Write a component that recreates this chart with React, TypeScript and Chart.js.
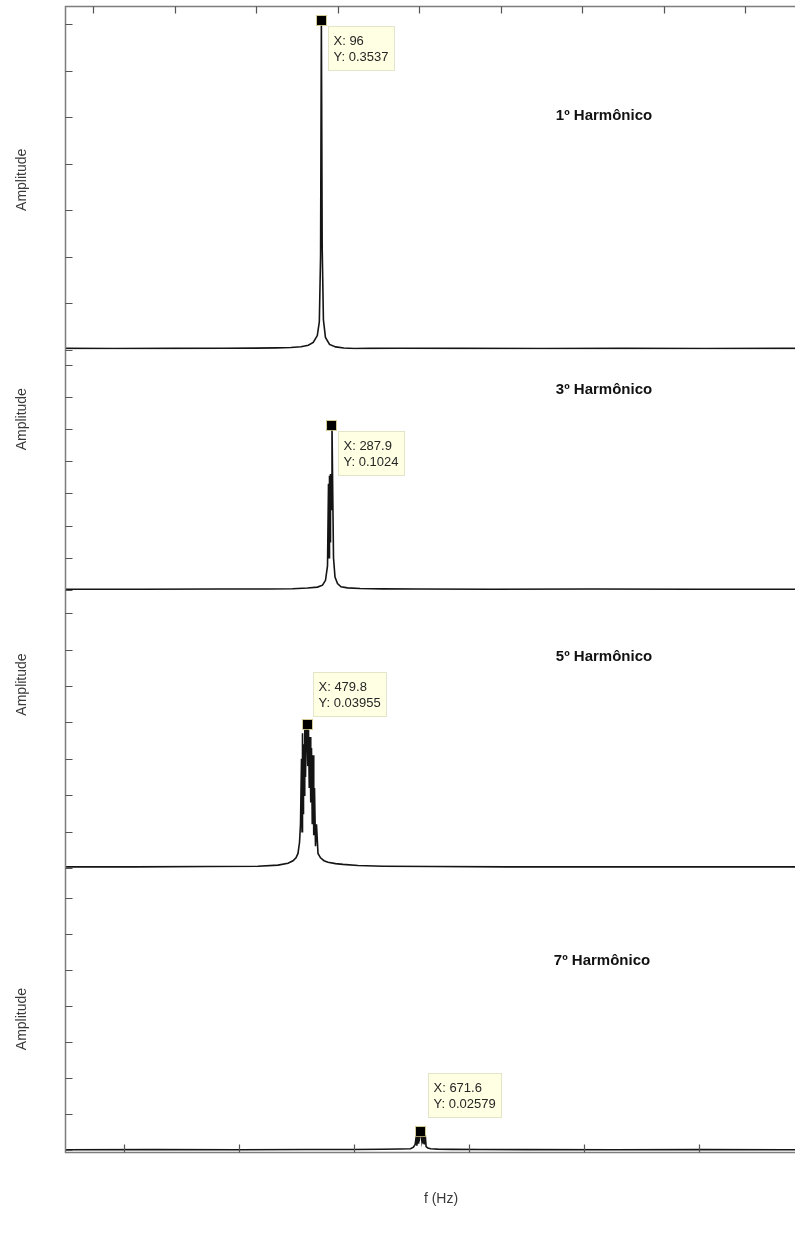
import React, { useEffect, useRef } from 'react';
import { Chart, registerables } from 'chart.js';

Chart.register(...registerables);

// ---------- data ----------
const panelTitles = ['1º Harmônico', '3º Harmônico', '5º Harmônico', '7º Harmônico'];
const yAxisTitle = 'Amplitude';
const xAxisTitle = 'f (Hz)';

// 1st harmonic spectrum
const freq1 = [33.1, 45, 60, 72, 80, 85, 88.5, 91, 92.8, 94, 95, 95.5, 95.8, 96, 96.2, 96.5, 97, 98, 99.5, 101.5, 104, 108, 115, 130, 150, 170, 190, 210, 231];
const amp1 = [0.0012, 0.0011, 0.0012, 0.0013, 0.0015, 0.0018, 0.0022, 0.003, 0.0045, 0.0075, 0.015, 0.03, 0.1, 0.3537, 0.11, 0.032, 0.013, 0.0055, 0.0028, 0.0016, 0.001, 0.0012, 0.0013, 0.0012, 0.0011, 0.0012, 0.0011, 0.0012, 0.0011];

// 3rd harmonic spectrum
const freq3 = [234.5, 250, 265, 275, 280, 283, 285, 286.0, 286.6, 287.0, 287.2, 287.3, 287.4, 287.5, 287.6, 287.75, 287.9, 288.05, 288.2, 288.5, 289.0, 289.7, 291, 293.5, 298, 305, 320, 340, 360, 380, 396];
const amp3 = [0.0005, 0.0005, 0.0006, 0.0006, 0.0008, 0.0012, 0.0018, 0.003, 0.006, 0.015, 0.066, 0.02, 0.071, 0.03, 0.072, 0.05, 0.1024, 0.06, 0.02, 0.008, 0.004, 0.002, 0.0013, 0.0009, 0.0007, 0.0006, 0.0005, 0.0006, 0.0005, 0.0005, 0.0005];

// 5th harmonic spectrum
const freq5 = [431.4, 445, 460, 470, 474, 476, 477, 477.6, 478.0, 478.3, 478.5, 478.7, 478.8, 478.9, 479.0, 479.1, 479.2, 479.35, 479.5, 479.65, 479.8, 479.95, 480.1, 480.25, 480.4, 480.55, 480.7, 480.85, 481.0, 481.15, 481.3, 481.5, 481.7, 482.0, 482.5, 483.2, 484, 485.5, 487, 490, 495, 505, 520, 540, 565, 593];
const amp5 = [0.0003, 0.0003, 0.0004, 0.0005, 0.0008, 0.0013, 0.002, 0.0028, 0.004, 0.007, 0.012, 0.03, 0.01, 0.037, 0.015, 0.034, 0.02, 0.038, 0.025, 0.039, 0.03955, 0.028, 0.038, 0.022, 0.036, 0.018, 0.033, 0.012, 0.031, 0.009, 0.022, 0.006, 0.012, 0.004, 0.0028, 0.002, 0.0016, 0.0012, 0.001, 0.0007, 0.0005, 0.0004, 0.0003, 0.0003, 0.0003, 0.0003];

// 7th harmonic spectrum
const freq7 = [609.7, 625, 640, 652, 660, 665, 668, 669.8, 670.3, 670.6, 670.8, 670.9, 671.0, 671.1, 671.2, 671.3, 671.45, 671.6, 671.75, 671.9, 672.0, 672.1, 672.2, 672.35, 672.5, 672.8, 673.3, 674.5, 677, 682, 690, 705, 720, 735, 750];
const amp7 = [0.0006, 0.0007, 0.0006, 0.0008, 0.0009, 0.0012, 0.0016, 0.002, 0.004, 0.008, 0.02, 0.006, 0.023, 0.01, 0.024, 0.012, 0.025, 0.02579, 0.014, 0.025, 0.01, 0.024, 0.008, 0.021, 0.005, 0.003, 0.002, 0.0014, 0.001, 0.0008, 0.0007, 0.0006, 0.0007, 0.0006, 0.0006];

// data-tip peaks
const peakX = [96, 287.9, 479.8, 671.6];
const peakY = [0.3537, 0.1024, 0.03955, 0.02579];

// axis ranges
const xMin = [33.1, 234.5, 431.4, 609.7];
const xMax = [230.6, 395.5, 592.4, 749.7];
const yMin = [0, 0, 0, -0.004];
const yMax = [0.3694, 0.1494, 0.0764, 0.392];

// tick values
const yTicks1 = [0, 0.05, 0.1, 0.15, 0.2, 0.25, 0.3, 0.35];
const yTicks3 = [0, 0.02, 0.04, 0.06, 0.08, 0.1, 0.12, 0.14];
const yTicks5 = [0, 0.01, 0.02, 0.03, 0.04, 0.05, 0.06, 0.07];
const yTicks7 = [0, 0.05, 0.1, 0.15, 0.2, 0.25, 0.3, 0.35];
const xTicksTop = [40, 60, 80, 100, 120, 140, 160, 180, 200, 220];
const xTicksBottom = [620, 640, 660, 680, 700, 720, 740];

// ---------- styling / layout ----------
const CANVAS_W = 870;
const CANVAS_H = 1238;
const panelHeights = [343.5, 240.5, 278, 285];
const ampLabelFrac = [0.506, 0.29, 0.34, 0.53];
const titleFrac = [0.32, 0.168, 0.241, 0.326];
const titleX = [604, 604, 604, 602];
// data-tip box placement relative to marker centre: [dx, dy, anchor]
const tipPlace: [number, number, 'below' | 'above'][] = [
  [7, 5, 'below'],
  [6, 6, 'below'],
  [6, -8, 'above'],
  [7, -15, 'above'],
];
const FONT = '"Liberation Sans", Arial, Helvetica, sans-serif';

const series = [
  [freq1, amp1],
  [freq3, amp3],
  [freq5, amp5],
  [freq7, amp7],
];
const yTickSets = [yTicks1, yTicks3, yTicks5, yTicks7];

const fmt = (v: number) => String(v);

const decorPlugin = {
  id: 'matlabDecor',
  afterDraw(chart: any) {
    const ctx = chart.ctx as CanvasRenderingContext2D;
    const ca = chart.chartArea;
    const L = Math.round(ca.left) + 0.5;
    const T = Math.round(ca.top) + 0.5;
    const B = Math.round(ca.bottom) - 0.5;
    const R = ca.right;
    ctx.save();

    // frame lines
    ctx.strokeStyle = '#7d7d7d';
    ctx.lineWidth = 1.5;
    ctx.beginPath();
    ctx.moveTo(R, T);
    ctx.lineTo(L, T);
    ctx.lineTo(L, B);
    ctx.lineTo(R, B);
    ctx.stroke();

    // ticks
    ctx.strokeStyle = '#555';
    ctx.lineWidth = 1.2;
    ctx.beginPath();
    for (let i = 0; i < 4; i++) {
      const ys = chart.scales['y' + (i + 1)];
      for (const v of yTickSets[i]) {
        const py = Math.round(ys.getPixelForValue(v)) + 0.5;
        ctx.moveTo(L, py);
        ctx.lineTo(L + 7, py);
      }
    }
    const xt = chart.scales.x1;
    for (const v of xTicksTop) {
      const px = Math.round(xt.getPixelForValue(v)) + 0.5;
      ctx.moveTo(px, T);
      ctx.lineTo(px, T + 7);
    }
    const xb = chart.scales.x4;
    for (const v of xTicksBottom) {
      const px = Math.round(xb.getPixelForValue(v)) + 0.5;
      ctx.moveTo(px, B);
      ctx.lineTo(px, B - 8);
    }
    ctx.stroke();

    // y-axis titles
    ctx.fillStyle = '#3a3a3a';
    ctx.font = `14px ${FONT}`;
    ctx.textAlign = 'center';
    ctx.textBaseline = 'middle';
    for (let i = 0; i < 4; i++) {
      const ys = chart.scales['y' + (i + 1)];
      const cy = ys.top + ampLabelFrac[i] * (ys.bottom - ys.top);
      ctx.save();
      ctx.translate(22, cy);
      ctx.rotate(-Math.PI / 2);
      ctx.fillText(yAxisTitle, 0, 0);
      ctx.restore();
    }

    // x-axis title
    ctx.fillText(xAxisTitle, ca.left + 376, ca.bottom + 46);

    // panel titles
    ctx.fillStyle = '#111';
    ctx.font = `bold 15px ${FONT}`;
    for (let i = 0; i < 4; i++) {
      const ys = chart.scales['y' + (i + 1)];
      const cy = ys.top + titleFrac[i] * (ys.bottom - ys.top);
      ctx.fillText(panelTitles[i], titleX[i], cy);
    }

    // data tips
    ctx.font = `13px ${FONT}`;
    for (let i = 0; i < 4; i++) {
      const xs = chart.scales['x' + (i + 1)];
      const ys = chart.scales['y' + (i + 1)];
      const mx = xs.getPixelForValue(peakX[i]);
      const my = ys.getPixelForValue(peakY[i]);
      const lines = ['X: ' + fmt(peakX[i]), 'Y: ' + fmt(peakY[i])];
      const tw = Math.max(...lines.map((l) => ctx.measureText(l).width));
      const bw = Math.round(tw + 11);
      const bh = 44;
      const [dx, dy, anchor] = tipPlace[i];
      const bx = Math.round(mx + dx) + 0.5;
      const by = Math.round(anchor === 'below' ? my + dy : my + dy - bh) + 0.5;
      ctx.fillStyle = 'rgb(255,255,228)';
      ctx.fillRect(bx, by, bw, bh);
      ctx.strokeStyle = 'rgb(228,228,200)';
      ctx.lineWidth = 1;
      ctx.strokeRect(bx, by, bw, bh);
      ctx.fillStyle = '#262626';
      ctx.textAlign = 'left';
      ctx.fillText(lines[0], bx + 5, by + 15);
      ctx.fillText(lines[1], bx + 5, by + 31);
      // marker
      ctx.fillStyle = '#000';
      ctx.fillRect(Math.round(mx - 4.5), Math.round(my - 4.5), 9, 9);
      ctx.strokeStyle = 'rgba(200,190,120,0.8)';
      ctx.strokeRect(Math.round(mx - 4.5) - 0.5, Math.round(my - 4.5) - 0.5, 10, 10);
    }
    ctx.restore();
  },
};

export default function App() {
  const canvasRef = useRef<HTMLCanvasElement | null>(null);

  useEffect(() => {
    const canvas = canvasRef.current;
    if (!canvas) return;

    const datasets = series.map(([fx, ay], i) => ({
      label: panelTitles[i],
      data: fx.map((f, k) => ({ x: f, y: ay[k] })),
      xAxisID: 'x' + (i + 1),
      yAxisID: 'y' + (i + 1),
      borderColor: '#141414',
      borderWidth: 1.6,
      pointRadius: 0,
      fill: false,
      tension: 0,
    }));

    const scales: any = {};
    for (let i = 0; i < 4; i++) {
      scales['x' + (i + 1)] = {
        type: 'linear',
        display: false,
        position: i === 0 ? 'top' : 'bottom',
        min: xMin[i],
        max: xMax[i],
      };
      scales['y' + (i + 1)] = {
        type: 'linear',
        display: false,
        position: 'left',
        stack: 'panels',
        stackWeight: panelHeights[i],
        weight: 4 - i,
        min: yMin[i],
        max: yMax[i],
      };
    }

    const chart = new Chart(canvas, {
      type: 'line',
      data: { datasets },
      options: {
        responsive: false,
        animation: false,
        devicePixelRatio: 1,
        layout: { padding: { left: 65, right: 0, top: 6, bottom: CANVAS_H - 1153 } },
        plugins: { legend: { display: false }, tooltip: { enabled: false }, title: { display: false } },
        scales,
      },
      plugins: [decorPlugin],
    });
    return () => chart.destroy();
  }, []);

  return (
    <div
      style={{
        position: 'fixed',
        left: 0,
        top: 0,
        width: 795,
        height: 1238,
        overflow: 'hidden',
        background: '#fff',
      }}
    >
      <canvas ref={canvasRef} width={CANVAS_W} height={CANVAS_H} style={{ display: 'block' }} />
    </div>
  );
}
